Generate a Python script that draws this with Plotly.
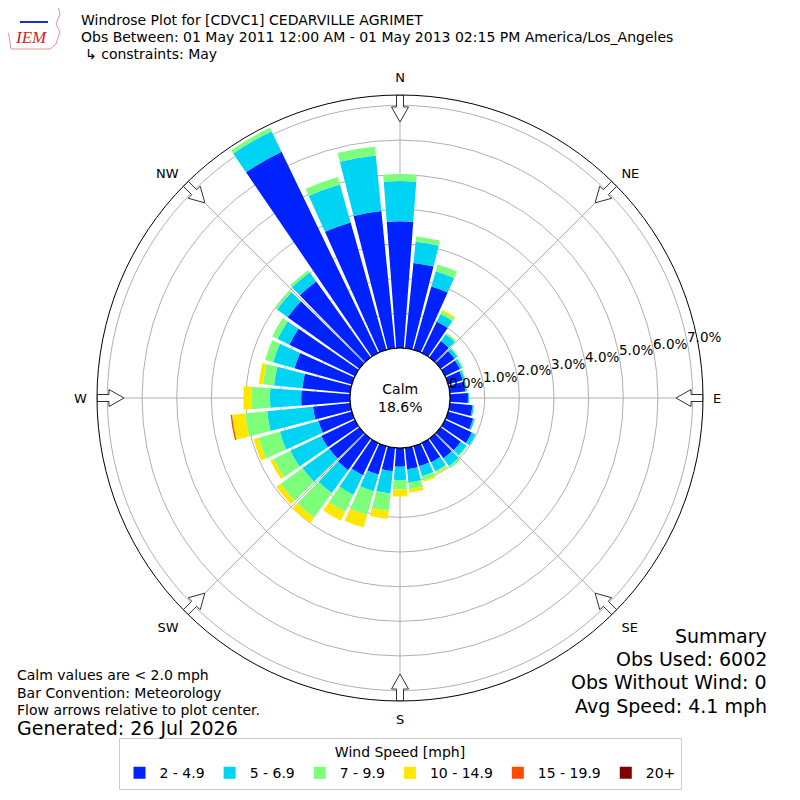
"""
Windrose for CDVC1 Cedarville Agrimet (May 2011 - May 2013), stacked
barpolar by wind speed bin, with the IEM style summary texts round it.
"""

import math
import plotly.graph_objects as go

# Direction bins (degrees, meteorological)
directions = [0, 10, 20, 30, 40, 50, 60, 70, 80, 90, 100, 110,
              120, 130, 140, 150, 160, 170, 180, 190, 200, 210, 220, 230,
              240, 250, 260, 270, 280, 290, 300, 310, 320, 330, 340, 350]

# Frequency (%) per speed bin
spd_2_5 = [3.66, 2.47, 1.90, 1.00, 0.58, 0.50, 0.48, 0.44, 0.45, 0.52, 0.66, 0.75,
           0.86, 0.72, 0.70, 0.62, 0.60, 0.62, 0.54, 0.68, 0.85, 1.03, 1.12, 1.07,
           1.08, 1.00, 1.08, 1.41, 1.39, 1.72, 2.10, 2.55, 2.70, 6.44, 3.82, 3.98]
spd_5_7 = [1.16, 0.62, 0.46, 0.25, 0.24, 0.10, 0.07, 0.06, 0.05, 0.03, 0.04, 0.05,
           0.12, 0.20, 0.28, 0.28, 0.30, 0.39, 0.38, 0.65, 0.50, 0.63, 0.81, 0.95,
           0.99, 1.16, 1.33, 0.90, 0.82, 0.64, 0.38, 0.38, 0.32, 0.66, 1.14, 1.61]
spd_7_10 = [0.20, 0.15, 0.20, 0.08, 0.05, 0.03, 0.03, 0.03, 0.01, 0.00, 0.00, 0.00,
            0.00, 0.03, 0.07, 0.05, 0.12, 0.19, 0.27, 0.50, 0.71, 0.54, 0.87, 0.78,
            0.54, 0.64, 0.64, 0.53, 0.32, 0.24, 0.17, 0.07, 0.08, 0.11, 0.22, 0.26]
spd_10_15 = [0.00, 0.00, 0.00, 0.05, 0.00, 0.00, 0.00, 0.00, 0.00, 0.00, 0.00, 0.00,
             0.00, 0.00, 0.00, 0.03, 0.05, 0.10, 0.21, 0.23, 0.38, 0.29, 0.20, 0.15,
             0.10, 0.15, 0.38, 0.24, 0.12, 0.00, 0.00, 0.00, 0.00, 0.00, 0.00, 0.00]
spd_15_20 = [0.0] * 26 + [0.04] + [0.0] * 9
spd_20_up = [0.0] * 36

bins = ["2 - 4.9", "5 - 6.9", "7 - 9.9", "10 - 14.9", "15 - 19.9", "20+"]
colors = ["#0022ff", "#00d4f5", "#7dff7b", "#ffe600", "#ff4a00", "#800000"]
series = [spd_2_5, spd_5_7, spd_7_10, spd_10_15, spd_15_20, spd_20_up]

calm_pct = 18.6
ring_ticks = [0, 1, 2, 3, 4, 5, 6, 7]
compass = ["N", "NE", "E", "SE", "S", "SW", "W", "NW"]
compass_deg = [0, 45, 90, 135, 180, 225, 270, 315]

# plot geometry, in page pixels; the page body has an 8px margin
W = H = 800
OFF = 8
cx, cy, R = 400, 398, 303
hole_px = 50
rmax = 7.3


def px_to_val(r_px):
    return (r_px - hole_px) / (R - hole_px) * rmax


def fx(x):
    return (x - OFF) / W


def fy(y):
    return 1 - (y - OFF) / H


fig = go.Figure()

for name, col, vals in zip(bins, colors, series):
    fig.add_trace(go.Barpolar(
        r=vals, theta=directions, width=8.6, name=name,
        marker=dict(color=col, line=dict(width=0)),
    ))

# inner (calm) circle edge
circ = list(range(0, 361, 2))
fig.add_trace(go.Scatterpolar(
    r=[0] * len(circ), theta=circ, mode="lines",
    line=dict(color="black", width=1.2), showlegend=False, hoverinfo="skip",
))

# hollow flow arrows at the eight compass points
arrow_shape = [(303, 3.5), (291, 3.5), (291, 8.5), (276, 0),
               (291, -8.5), (291, -3.5), (303, -3.5), (303, 3.5)]
for b in compass_deg:
    br = math.radians(b)
    rs, ts = [], []
    for rr, ww in arrow_shape:
        x = rr * math.sin(br) + ww * math.cos(br)
        y = rr * math.cos(br) - ww * math.sin(br)
        rs.append(px_to_val(math.hypot(x, y)))
        ts.append(math.degrees(math.atan2(x, y)) % 360)
    fig.add_trace(go.Scatterpolar(
        r=rs, theta=ts, mode="lines", fill="toself", fillcolor="white",
        line=dict(color="#333333", width=1), showlegend=False, hoverinfo="skip",
    ))

fig.update_layout(
    width=W, height=H,
    margin=dict(l=0, r=0, t=0, b=0),
    paper_bgcolor="white",
    font=dict(family="DejaVu Sans", size=13, color="black"),
    polar=dict(
        domain=dict(x=[fx(cx - R), fx(cx + R)], y=[fy(cy + R), fy(cy - R)]),
        hole=hole_px / R,
        bgcolor="white",
        barmode="stack",
        radialaxis=dict(
            range=[0, rmax], tickvals=ring_ticks, showticklabels=False,
            showline=False, ticks="", gridcolor="#b0b0b0", gridwidth=1,
        ),
        angularaxis=dict(
            rotation=90, direction="clockwise",
            tickvals=compass_deg, ticktext=compass,
            ticks="outside", ticklen=7, tickcolor="rgba(0,0,0,0)",
            showline=True, linecolor="black", linewidth=1,
            gridcolor="#b0b0b0", gridwidth=1,
            tickfont=dict(size=13),
        ),
    ),
    legend=dict(
        orientation="h", x=fx(400), xanchor="center", y=fy(790), yanchor="bottom",
        title=dict(text="Wind Speed [mph]", side="top center", font=dict(size=14)),
        font=dict(size=14), bordercolor="#cccccc", borderwidth=1,
        itemsizing="constant",
    ),
    showlegend=True,
)


def px_text(text, x, y, size=13, xanchor="left", yanchor="middle", **kw):
    fig.add_annotation(text=text, x=fx(x), y=fy(y), xref="paper", yref="paper",
                       xanchor=xanchor, yanchor=yanchor, showarrow=False,
                       borderpad=0, font=dict(size=size, **kw))


# radial ring labels, along a line 11 degrees above east
lab_ang = math.radians(11)
for t in ring_ticks:
    rp = hole_px + t * (R - hole_px) / rmax
    px_text(f"{t:.1f}%", cx + rp * math.cos(lab_ang) - 1,
            cy - rp * math.sin(lab_ang) + 4, 13.5, yanchor="bottom")

# header
px_text("Windrose Plot for [CDVC1] CEDARVILLE AGRIMET", 80, 20, 14)
px_text("Obs Between: 01 May 2011 12:00 AM - 01 May 2013 02:15 PM America/Los_Angeles", 80, 37, 14)
px_text("↳ constraints: May", 84, 54, 14)

# IEM logo (rough)
fig.add_shape(type="path", xref="paper", yref="paper",
              path=f"M {fx(7)} {fy(6)} L {fx(58)} {fy(6)} L {fx(60)} {fy(14)} "
                   f"L {fx(56)} {fy(24)} L {fx(60)} {fy(32)} L {fx(56)} {fy(44)} "
                   f"L {fx(50)} {fy(49)} L {fx(11)} {fy(49)} L {fx(9)} {fy(36)} "
                   f"L {fx(5)} {fy(24)} Z",
              line=dict(color="#f09090", width=1))
fig.add_shape(type="line", xref="paper", yref="paper",
              x0=fx(20), y0=fy(22), x1=fx(48), y1=fy(22),
              line=dict(color="#1a2fcc", width=2))
px_text("IEM", 14, 38, 17, color="#cc2222", family="Liberation Serif",
        style="italic")

# calm in the middle
px_text("Calm<br>" + f"{calm_pct:.1f}%", cx, cy, 14, xanchor="center")

# notes bottom left
px_text("Calm values are < 2.0 mph", 16, 675, 14)
px_text("Bar Convention: Meteorology", 16, 693, 14)
px_text("Flow arrows relative to plot center.", 16, 710, 14)
px_text("Generated: 26 Jul 2026", 16, 728, 19)

# summary bottom right
px_text("Summary", 768, 636, 19, xanchor="right")
px_text("Obs Used: 6002", 768, 659, 19, xanchor="right")
px_text("Obs Without Wind: 0", 768, 682, 19, xanchor="right")
px_text("Avg Speed: 4.1 mph", 768, 706, 19, xanchor="right")

fig.write_html("out.html")
